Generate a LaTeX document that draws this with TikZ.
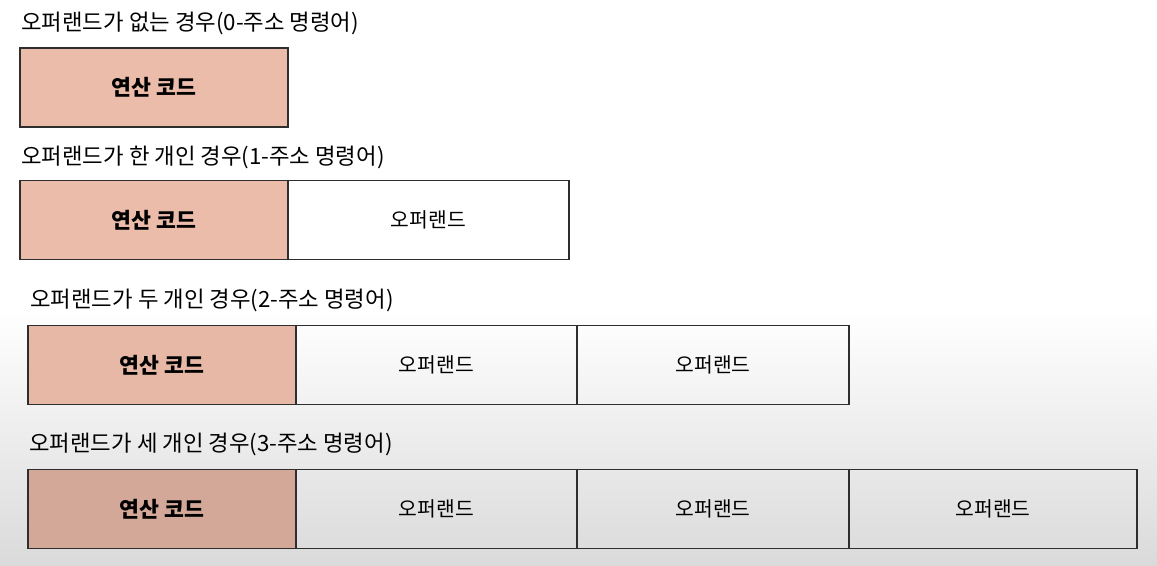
\documentclass[tikz,border=0pt]{standalone}
\usepackage{fontspec}
\newfontfamily\kr{Noto Sans CJK KR}
\usetikzlibrary{positioning}
\definecolor{opfill}{HTML}{EBBCAA}
\definecolor{opfillmid}{HTML}{E7B8A6}
\definecolor{opfilllow}{HTML}{D4A898}
\definecolor{shadebot}{HTML}{DADADA}
\definecolor{edge}{HTML}{2E2E2E}
\tikzset{
  title/.style   = {anchor=west, inner sep=0pt, font=\kr\fontsize{12.7}{14}\selectfont},
  opcode/.style  = {draw=edge, line width=1pt, rectangle, fill=opfill,
                    minimum height=1.58cm, minimum width=5.36cm,
                    outer sep=0pt, inner sep=0pt, font=\kr\bfseries\fontsize{12.3}{14}\selectfont},
  operand/.style = {draw=edge, line width=1pt, rectangle,
                    minimum height=1.58cm, minimum width=5.62cm,
                    outer sep=0pt, inner sep=0pt, font=\kr\fontsize{11.6}{14}\selectfont},
}

\begin{document}
\begin{tikzpicture}[x=1cm,y=1cm]
\useasboundingbox (0,0) rectangle (23.14,-11.32);
\fill[white] (0,0) rectangle (23.14,-6.2);
\shade[top color=white, bottom color=shadebot] (0,-6.2) rectangle (23.14,-11.32);
% no operand
\node[title] (t0) at (0.42,-0.46) {오퍼랜드가 없는 경우(0-주소 명령어)};
\node[opcode] (c0) at (3.08,-1.75) {연산 코드};
% one operand
\node[title] (t1) at (0.42,-3.14) {오퍼랜드가 한 개인 경우(1-주소 명령어)};
\node[opcode] (c1) at (3.08,-4.40) {연산 코드};
\node[operand] (o11) [right=0pt of c1] {오퍼랜드};
% two operands
\node[title] (t2) at (0.60,-6.00) {오퍼랜드가 두 개인 경우(2-주소 명령어)};
\node[opcode, fill=opfillmid] (c2) at (3.24,-7.30) {연산 코드};
\node[operand] (o21) [right=0pt of c2] {오퍼랜드};
\node[operand, minimum width=5.44cm] (o22) [right=0pt of o21] {오퍼랜드};
% three operands
\node[title] (t3) at (0.58,-8.88) {오퍼랜드가 세 개인 경우(3-주소 명령어)};
\node[opcode, fill=opfilllow] (c3) at (3.24,-10.18) {연산 코드};
\node[operand] (o31) [right=0pt of c3] {오퍼랜드};
\node[operand, minimum width=5.44cm] (o32) [right=0pt of o31] {오퍼랜드};
\node[operand, minimum width=5.76cm] (o33) [right=0pt of o32] {오퍼랜드};
\end{tikzpicture}
\end{document}
